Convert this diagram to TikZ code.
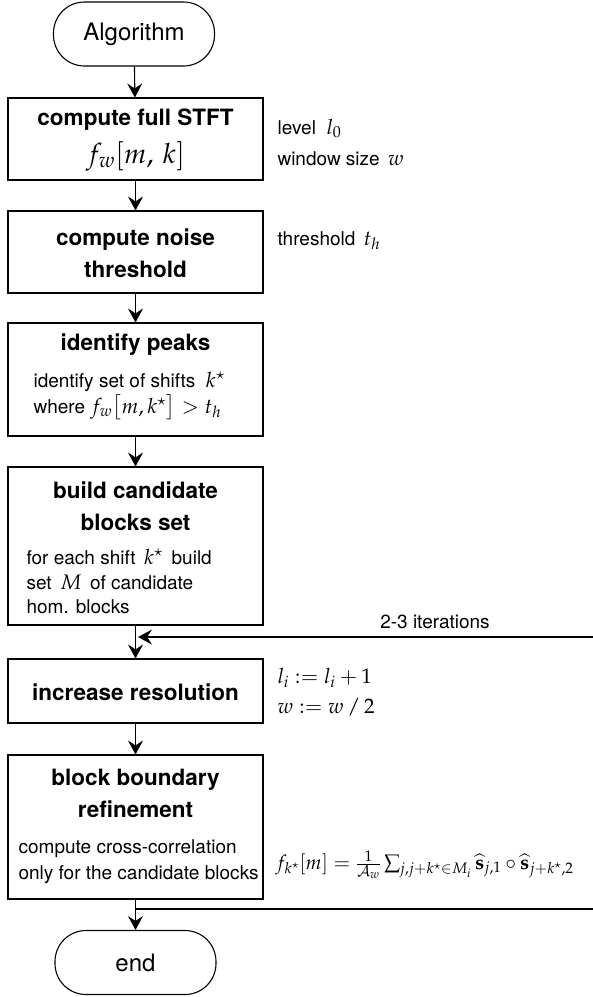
\documentclass[tikz,border=0pt]{standalone}
\usepackage{amsmath}
\usepackage{amssymb}
\usepackage{mathpazo}
\usepackage{fontspec}
\setmainfont{TeX Gyre Heros}
\usetikzlibrary{arrows.meta,positioning,calc}

% math set a little larger than the running text
\newcommand{\largemath}[1]{{\fontsize{21}{24}\selectfont$#1$}}

\begin{document}
\begin{tikzpicture}[x=1pt,y=-1pt,>={Stealth[length=14pt,width=15pt,inset=5pt]},
   line width=1.1pt,
   term/.style={draw,rounded corners=31pt,minimum width=161pt,minimum height=64pt,
     inner sep=0pt,font=\fontsize{24}{28}\selectfont},
   stepbox/.style={draw,minimum width=255pt,inner sep=0pt},
   ttl/.style={anchor=base,inner sep=0pt,font=\fontsize{22.5}{26}\selectfont\bfseries},
   txt/.style={anchor=base west,inner sep=0pt,font=\fontsize{19}{23}\selectfont}]
  \useasboundingbox (0,0) rectangle (593,997);

  % flow column
  \node[term] (start) at (134,34) {Algorithm};

  \node[stepbox,minimum height=82pt] (stft) at (135.5,139) {};
  \node[ttl] (stftttl) at (135.5,125) {compute full STFT};
  \node[anchor=base,inner sep=0pt,font=\fontsize{28}{30}\selectfont] (stftfn) at (135.5,163) {$f_w[m,\,k]$};

  \node[stepbox,minimum height=82pt] (noise) at (135.5,252) {};
  \node[ttl] (noisettl1) at (135.5,245) {compute noise};
  \node[ttl] (noisettl2) at (135.5,277) {threshold};

  \node[stepbox,minimum height=113pt] (peaks) at (135.5,379.5) {};
  \node[ttl] (peaksttl) at (135.5,350) {identify peaks};
  \node[txt] (peakstxt1) at (33,387) {identify set of shifts\; \largemath{k^\star}};
  \node[txt] (peakstxt2) at (33,413) {where \largemath{f_w\bigl[m,k^\star\bigr] > t_h}};

  \node[stepbox,minimum height=158pt] (cand) at (135.5,546) {};
  \node[ttl] (candttl1) at (135.5,498) {build candidate};
  \node[ttl] (candttl2) at (135.5,530) {blocks set};
  \node[txt] (candtxt1) at (26,564) {for each shift\, \largemath{k^\star}\, build};
  \node[txt] (candtxt2) at (26,589) {set\, \largemath{M}\, of candidate};
  \node[txt] (candtxt3) at (26,613) {hom. blocks};

  \node[stepbox,minimum height=64pt] (res) at (135.5,691) {};
  \node[ttl] (resttl) at (135.5,700) {increase resolution};

  \node[stepbox,minimum height=144pt] (refine) at (135.5,827) {};
  \node[ttl] (refinettl1) at (135.5,785) {block boundary};
  \node[ttl] (refinettl2) at (135.5,817) {refinement};
  \node[txt] (refinetxt1) at (18,853) {compute cross-correlation};
  \node[txt] (refinetxt2) at (18,879) {only for the candidate blocks};

  \node[term] (end) at (135.5,962.5) {end};

  % parameters beside the steps
  \node[txt] (lvl) at (277,134) {level\; \largemath{l_0}};
  \node[txt] (win) at (277,165) {window size\, \largemath{w}};
  \node[txt] (thr) at (277,245) {threshold\, \largemath{t_h}};
  \node[txt] (lupd) at (277,683) {\largemath{l_i := l_i + 1}};
  \node[txt] (wupd) at (277,713) {\largemath{w := w\,/\,2}};
  \node[txt,font=\fontsize{20}{23}\selectfont] (xcorr) at (275,869) {$f_{k^\star}[m] = \frac{1}{\mathcal{A}_w}\sum_{j,j+k^\star\in M_i}\widehat{\mathbf{s}}_{j,1}\circ\widehat{\mathbf{s}}_{j+k^\star,2}$};

  % arrows
  \draw[->] (start) -- (stft);
  \draw[->] (stft) -- (noise);
  \draw[->] (noise) -- (peaks);
  \draw[->] (peaks) -- (cand);
  \draw[->] (cand) -- (res);
  \draw[->] (res) -- (refine);
  \draw[->] (refine) -- (end);

  % iteration loop
  \coordinate (loopin) at (593,637);
  \coordinate (loopjoin) at (138,637);
  \coordinate (loopsplit) at (135.5,909);
  \coordinate (loopout) at (593,909);
  \draw[->] (loopin) -- (loopjoin);
  \node[anchor=base,inner sep=0pt,font=\fontsize{19}{22}\selectfont] (iter) at (435,628) {2-3 iterations};
  \draw (loopsplit) -- (loopout);
\end{tikzpicture}
\end{document}
